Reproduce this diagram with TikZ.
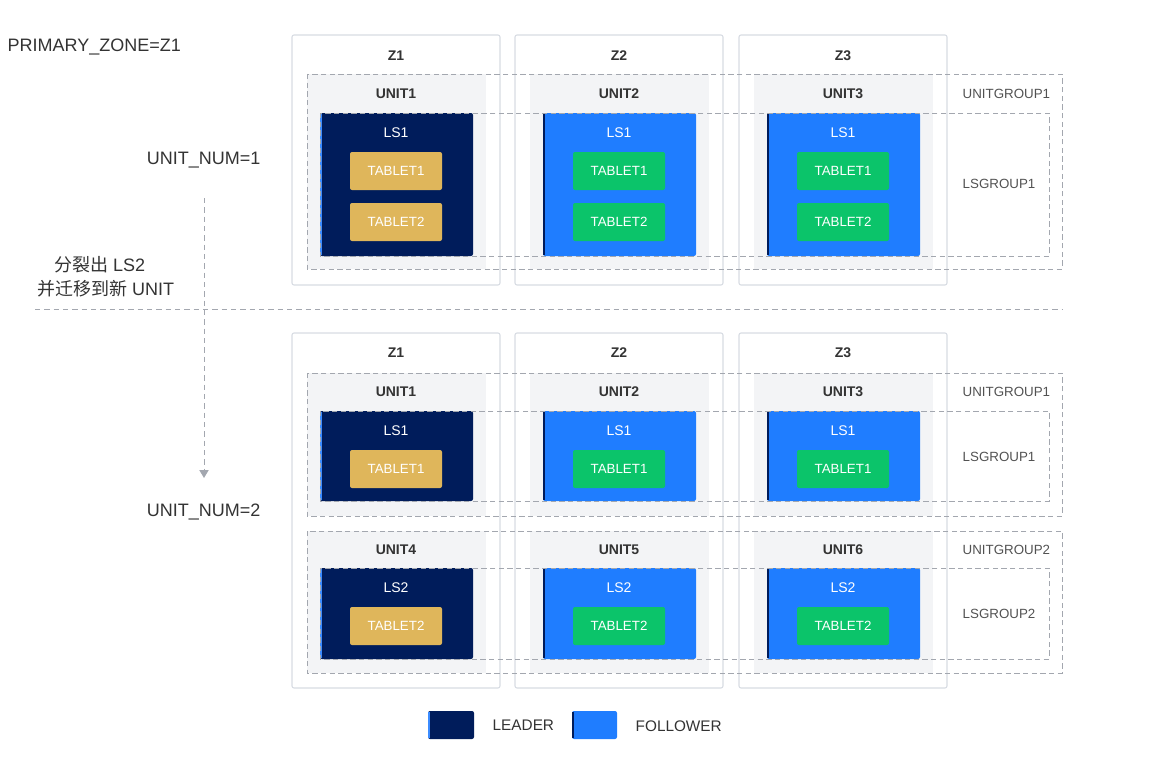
\documentclass[tikz,border=0pt]{standalone}
\usepackage{fontspec}
\setmainfont{Liberation Sans}
\newfontfamily\cjk{Noto Sans CJK SC}
\usetikzlibrary{arrows.meta,positioning}

\definecolor{leaderblue}{HTML}{001C5B}
\definecolor{followblue}{HTML}{1F7DFF}
\definecolor{stripeblue}{HTML}{3C8CFF}
\definecolor{tabgold}{HTML}{DFB65B}
\definecolor{tabgreen}{HTML}{0BC46A}
\definecolor{unitgray}{HTML}{F3F4F6}
\definecolor{zoneline}{HTML}{D8DCE3}
\definecolor{dashgray}{HTML}{A3A7AF}
\definecolor{txtgray}{HTML}{333333}

\tikzset{
  zonebox/.style={draw=zoneline, fill=white, line width=0.8pt, rounded corners=1.5pt},
  unitbox/.style={fill=unitgray},
  lsbox/.style={rounded corners=1.5pt},
  grpbox/.style={draw=dashgray, line width=0.7pt, dash pattern=on 4pt off 2.5pt},
  tablet/.style={rounded corners=1.5pt, minimum width=69pt, minimum height=28.5pt,
    text=white, font=\fontsize{10}{12}\selectfont, inner sep=0pt},
  title/.style={font=\fontsize{10.5}{12}\bfseries, text=txtgray},
  lstxt/.style={font=\fontsize{10.5}{12}\selectfont, text=white},
  grptxt/.style={anchor=west, font=\fontsize{10}{12}\selectfont, text=txtgray!85},
  bigtxt/.style={font=\fontsize{13.5}{16}\selectfont, text=txtgray},
}

\begin{document}
\begin{tikzpicture}[x=0.75pt, y=-0.75pt, >=Stealth]
    \useasboundingbox (0,0) rectangle (1152,774);

    % Top: one unit per zone
    \foreach \z/\dx/\lscol/\edgecol/\tabcol in {1/0/leaderblue/stripeblue/tabgold,
        2/223/followblue/leaderblue/tabgreen, 3/447/followblue/leaderblue/tabgreen} {
        \draw[zonebox] (292+\dx,35) rectangle (500+\dx,285);
        \fill[unitbox] (307+\dx,74) rectangle (486+\dx,269);
        \fill[lsbox, \lscol] (320+\dx,113) rectangle (473+\dx,256);
        \fill[\edgecol] (320+\dx,114) rectangle (322+\dx,255);
        \node[title] (tz\z) at (396+\dx,56) {Z\z};
        \node[title] (tu\z) at (396+\dx,94) {UNIT\z};
        \node[lstxt] (tls\z) at (396+\dx,133) {LS1};
        \node[tablet, fill=\tabcol] (tta\z) at (396+\dx,171) {TABLET1};
        \node[tablet, fill=\tabcol] (ttb\z) at (396+\dx,222) {TABLET2};
    }
    \draw[grpbox] (307,74) rectangle (1062,269);
    \draw[grpbox] (320,113) rectangle (1049,256);
    \node[grptxt] (tug1) at (958,94) {UNITGROUP1};
    \node[grptxt] (tlg1) at (958,184) {LSGROUP1};

    % Bottom: two units per zone
    \foreach \z/\dx/\lscol/\edgecol/\tabcol in {1/0/leaderblue/stripeblue/tabgold,
        2/223/followblue/leaderblue/tabgreen, 3/447/followblue/leaderblue/tabgreen} {
        \pgfmathtruncatemacro{\zz}{\z+3}
        \draw[zonebox] (292+\dx,333) rectangle (500+\dx,688);
        \fill[unitbox] (307+\dx,373) rectangle (486+\dx,516);
        \fill[unitbox] (307+\dx,531) rectangle (486+\dx,673);
        \fill[lsbox, \lscol] (320+\dx,411) rectangle (473+\dx,501);
        \fill[\edgecol] (320+\dx,412) rectangle (322+\dx,500);
        \fill[lsbox, \lscol] (320+\dx,568) rectangle (473+\dx,659);
        \fill[\edgecol] (320+\dx,569) rectangle (322+\dx,658);
        \node[title] (bz\z) at (396+\dx,353) {Z\z};
        \node[title] (bu\z) at (396+\dx,392) {UNIT\z};
        \node[lstxt] (bls\z) at (396+\dx,431) {LS1};
        \node[tablet, fill=\tabcol] (bta\z) at (396+\dx,469) {TABLET1};
        \node[title] (bv\z) at (396+\dx,550) {UNIT\zz};
        \node[lstxt] (bms\z) at (396+\dx,588) {LS2};
        \node[tablet, fill=\tabcol] (btb\z) at (396+\dx,626) {TABLET2};
    }
    \draw[grpbox] (307,373) rectangle (1062,516);
    \draw[grpbox] (320,411) rectangle (1049,501);
    \draw[grpbox] (307,531) rectangle (1062,673);
    \draw[grpbox] (320,568) rectangle (1049,659);
    \node[grptxt] (bug1) at (958,392) {UNITGROUP1};
    \node[grptxt] (blg1) at (958,457) {LSGROUP1};
    \node[grptxt] (bug2) at (958,550) {UNITGROUP2};
    \node[grptxt] (blg2) at (958,614) {LSGROUP2};

    % Left labels
    \node[bigtxt, anchor=west] (pz) at (3,47) {PRIMARY\_ZONE=Z1};
    \node[bigtxt, anchor=east] (un1) at (265,160) {UNIT\_NUM=1};
    \node[bigtxt, anchor=east] (un2) at (265,512) {UNIT\_NUM=2};
    \node[bigtxt] (sp1) at (100,265) {\cjk 分裂出\ \rmfamily LS2};
    \node[bigtxt] (sp2) at (106,289) {\cjk 并迁移到新\ \rmfamily UNIT};

    % Split arrow and divider
    \coordinate (ar0) at (204,198);
    \coordinate (ar1) at (204,478);
    \draw[dashgray, line width=0.7pt, dash pattern=on 4pt off 3pt,
        -{Triangle[length=6pt, width=7pt]}] (ar0) -- (ar1);
    \coordinate (dv0) at (35,309);
    \coordinate (dv1) at (1062,309);
    \draw[dashgray, line width=0.7pt, dash pattern=on 4pt off 3pt] (dv0) -- (dv1);

    % Legend
    \fill[lsbox, leaderblue] (428,711) rectangle (474,739);
    \fill[stripeblue] (428,712) rectangle (430,738);
    \node[anchor=west, font=\fontsize{11.5}{14}\selectfont, text=txtgray] (lgl) at (488,725) {LEADER};
    \fill[lsbox, followblue] (572,711) rectangle (617,739);
    \fill[leaderblue] (572,712) rectangle (574,738);
    \node[anchor=west, font=\fontsize{11.5}{14}\selectfont, text=txtgray] (lgf) at (631,726) {FOLLOWER};
\end{tikzpicture}
\end{document}
